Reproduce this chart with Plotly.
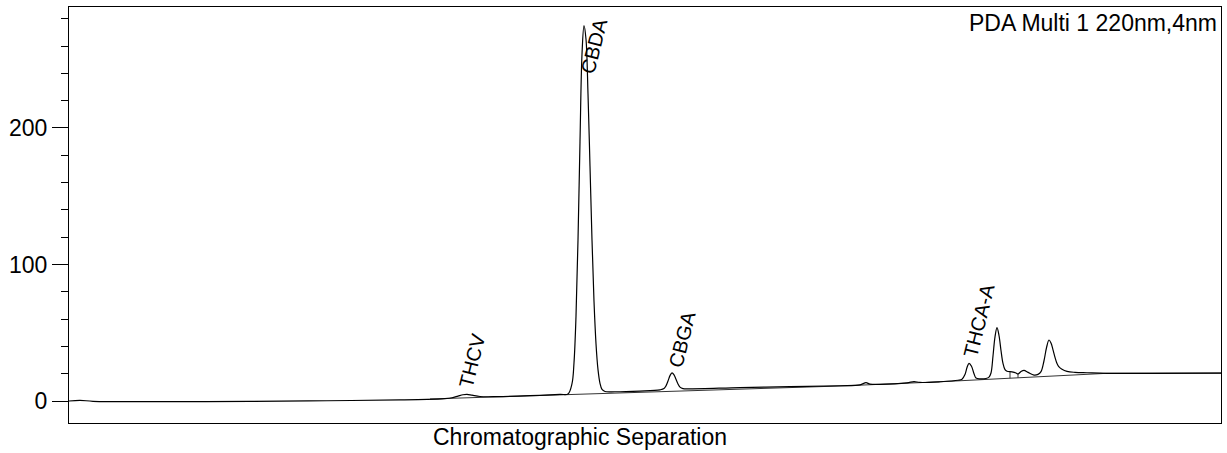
import numpy as np
import plotly.graph_objects as go

# ---- data (retention time in min, absorbance in mAU) ----
time_min = [0.00, 0.11, 0.24, 0.81, 1.81, 2.58, 3.31, 3.58, 3.76, 3.83, 3.89, 3.94, 3.98, 4.03,
            4.11, 4.28, 4.61, 4.91, 4.99, 5.03, 5.05, 5.07, 5.09, 5.11, 5.13, 5.15, 5.17, 5.19,
            5.21, 5.23, 5.25, 5.27, 5.29, 5.31, 5.33, 5.36, 5.46, 5.71, 5.91, 5.95, 5.97, 5.99,
            6.01, 6.03, 6.05, 6.07, 6.09, 6.11, 6.14, 6.21, 6.71, 7.21, 7.71, 7.91, 7.97, 8.01,
            8.11, 8.38, 8.45, 8.51, 8.71, 8.89, 8.93, 8.96, 8.98, 9.00, 9.025, 9.05, 9.07, 9.11,
            9.17, 9.20, 9.22, 9.24, 9.26, 9.28, 9.30, 9.32, 9.34, 9.36, 9.38, 9.43, 9.47, 9.49,
            9.52, 9.55, 9.59, 9.65, 9.69, 9.72, 9.75, 9.775, 9.80, 9.82, 9.84, 9.86, 9.88, 9.90,
            9.93, 9.98, 10.06, 10.18, 10.31, 10.38, 10.81, 11.52]
signal_mau = [0.0, 0.5, -0.2, -0.5, -0.3, 0.2, 0.8, 1.2, 1.8, 2.4, 3.6, 4.6, 4.9, 4.3,
              3.3, 3.2, 3.9, 4.9, 5.2, 12.8, 28.0, 62.0, 118.0, 190.0, 254.0, 275.0, 265.0, 225.0,
              172.0, 118.0, 73.0, 42.0, 23.0, 13.0, 8.5, 7.0, 6.8, 7.3, 8.2, 9.1, 11.1, 14.6,
              18.6, 20.6, 19.2, 15.9, 12.5, 10.2, 9.1, 8.9, 9.8, 10.5, 11.2, 11.8, 13.4, 12.4,
              12.2, 13.3, 14.2, 13.6, 14.1, 15.2, 16.0, 19.5, 24.5, 27.6, 25.5, 20.0, 16.8, 16.2,
              16.5, 17.5, 20.5, 33.0, 47.0, 53.7, 48.0, 37.0, 27.5, 23.0, 21.8, 21.3, 20.5, 19.8,
              21.6, 22.5, 21.0, 19.0, 19.5, 21.5, 29.5, 39.0, 44.7, 42.5, 37.5, 32.0, 27.5, 25.0,
              23.2, 21.7, 21.0, 20.7, 20.4, 20.3, 20.3, 20.5]

baseline_time = [3.61, 6.51, 7.71, 8.71, 10.38, 11.52]
baseline_mau = [1.5, 8.6, 11.0, 14.1, 20.3, 20.5]

drop_times = [9.41, 9.49]

peak_names = ["THCV", "CBDA", "CBGA", "THCA-A"]
label_times = [4.03, 5.25, 6.13, 9.10]
label_mau = [29.3, 260.0, 44.7, 58.6]

y_tick_vals = [0, 100, 200]
y_tick_text = ["0", "100", "200"]

detector_label = "PDA Multi 1 220nm,4nm"
x_title = "Chromatographic Separation"

# ---- figure ----
FONT = "Liberation Sans, Arial, sans-serif"
fig = go.Figure()

fig.add_trace(go.Scatter(x=baseline_time, y=baseline_mau, mode="lines",
                         line=dict(color="#333333", width=1), hoverinfo="skip"))

dx, dy = [], []
for t in drop_times:
    dx += [t, t, None]
    dy += [float(np.interp(t, time_min, signal_mau)), float(np.interp(t, baseline_time, baseline_mau)), None]
fig.add_trace(go.Scatter(x=dx, y=dy, mode="lines", line=dict(color="#333333", width=1),
                         hoverinfo="skip"))

fig.add_trace(go.Scatter(x=time_min, y=signal_mau, mode="lines",
                         line=dict(color="black", width=1.2), line_shape="spline"))

for name, t, v in zip(peak_names, label_times, label_mau):
    fig.add_annotation(x=t, y=v, xref="x", yref="y", text=name, showarrow=False,
                       textangle=-76, font=dict(family=FONT, size=20, color="black"),
                       xanchor="center", yanchor="middle")

fig.add_annotation(x=1, y=1, xref="paper", yref="paper", text=detector_label, showarrow=False,
                   xanchor="right", yanchor="top", xshift=-2, yshift=-1,
                   font=dict(family=FONT, size=23, color="black"))
fig.add_annotation(x=0.444, y=-0.034, xref="paper", yref="paper", text=x_title, showarrow=False,
                   xanchor="center", yanchor="middle",
                   font=dict(family=FONT, size=23, color="black"))

fig.update_layout(
    width=1227, height=453,
    margin=dict(l=69, r=6, t=7, b=30),
    paper_bgcolor="white", plot_bgcolor="white",
    showlegend=False,
    xaxis=dict(range=[0, 11.52], showgrid=False, zeroline=False, showticklabels=False,
               ticks="", showline=True, linecolor="black", linewidth=1, mirror=True),
    yaxis=dict(range=[-16.1, 288.6], showgrid=False, zeroline=False,
               tickvals=y_tick_vals, ticktext=y_tick_text, ticks="outside", ticklen=16,
               tickcolor="black", tickwidth=1,
               tickfont=dict(family=FONT, size=23, color="black"),
               showline=True, linecolor="black", linewidth=1, mirror=True,
               minor=dict(dtick=20, tick0=0, ticks="outside", ticklen=7, tickcolor="black",
                          tickwidth=1, showgrid=False)),
)

fig.write_html("out.html", config={"displayModeBar": False},
               post_script="document.body.style.margin='0px';document.body.style.overflow='hidden';")
